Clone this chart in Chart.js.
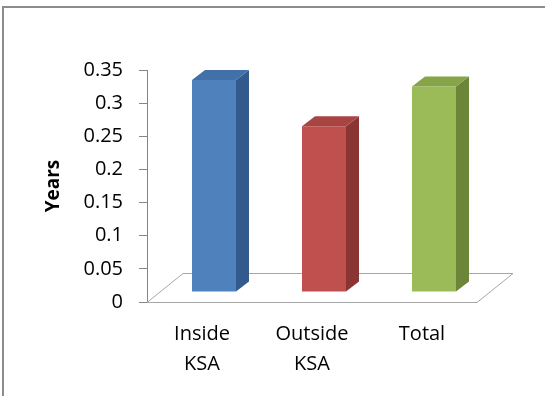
<!DOCTYPE html>
<html>
<head>
<meta charset="utf-8">
<script src="https://cdn.jsdelivr.net/npm/chart.js@4/dist/chart.umd.min.js"></script>
<style>
  html, body { margin: 0; padding: 0; background: #fff; }
  #wrap { width: 545px; height: 396px; position: relative; }
</style>
</head>
<body>
<div id="wrap"><canvas id="grafico" width="545" height="396"></canvas></div>
<script>
// dati
var categorie = [['Inside', 'KSA'], ['Outside', 'KSA'], 'Total'];
var valori = [0.32, 0.25, 0.31];
var colori_fronte = ['#4F81BD', '#C0504D', '#9BBB59'];
var colori_lato   = ['#335A8C', '#8A3533', '#6C8538'];
var colori_sopra  = ['#4270A8', '#A84542', '#86A548'];
var tick_y = { min: 0, max: 0.35, step: 0.05 };

// profondita' 3D (pavimento e barre)
var PROF = { dx: 36, dy: -29 };     // pavimento intero
var SPOST = { dx: 12, dy: -10 };    // barre a meta' profondita'
var BARRA = { dx: 13, dy: -10 };    // spessore barra

var plugin3d = {
  id: 'finto3d',
  beforeDraw: function(chart) {
    var ctx = chart.ctx;
    // cornice grigia
    ctx.save();
    ctx.strokeStyle = '#8C8C8C';
    ctx.lineWidth = 2;
    ctx.beginPath();
    ctx.moveTo(3, 396);
    ctx.lineTo(3, 7);
    ctx.lineTo(545, 7);
    ctx.stroke();
    ctx.restore();
  },
  beforeDatasetsDraw: function(chart) {
    var ctx = chart.ctx;
    var a = chart.chartArea;
    // pavimento
    ctx.save();
    ctx.strokeStyle = '#A6A6A6';
    ctx.lineWidth = 1;
    ctx.beginPath();
    ctx.moveTo(a.left, a.bottom + 0.5);
    ctx.lineTo(a.right, a.bottom + 0.5);
    ctx.lineTo(a.right + PROF.dx, a.bottom + PROF.dy + 0.5);
    ctx.lineTo(a.left + PROF.dx, a.bottom + PROF.dy + 0.5);
    ctx.closePath();
    ctx.stroke();
    ctx.restore();
    ctx.save();
    ctx.translate(SPOST.dx, SPOST.dy);
  },
  afterDatasetsDraw: function(chart) {
    var ctx = chart.ctx;
    var meta = chart.getDatasetMeta(0);
    meta.data.forEach(function(bar, i) {
      var p = bar.getProps(['x', 'y', 'base', 'width'], true);
      var l = p.x - p.width / 2, r = p.x + p.width / 2;
      // lato
      ctx.fillStyle = colori_lato[i];
      ctx.beginPath();
      ctx.moveTo(r, p.y);
      ctx.lineTo(r + BARRA.dx, p.y + BARRA.dy);
      ctx.lineTo(r + BARRA.dx, p.base + BARRA.dy);
      ctx.lineTo(r, p.base);
      ctx.closePath();
      ctx.fill();
      // sopra
      ctx.fillStyle = colori_sopra[i];
      ctx.beginPath();
      ctx.moveTo(l, p.y);
      ctx.lineTo(l + BARRA.dx, p.y + BARRA.dy);
      ctx.lineTo(r + BARRA.dx, p.y + BARRA.dy);
      ctx.lineTo(r, p.y);
      ctx.closePath();
      ctx.fill();
    });
    ctx.restore();
  }
};

var options = {
  type: 'bar',
  data: {
    labels: categorie,
    datasets: [{
      data: valori,
      backgroundColor: colori_fronte,
      borderWidth: 0,
      barPercentage: 0.4,
      categoryPercentage: 1
    }]
  },
  options: {
    responsive: false,
    animation: false,
    layout: { padding: { top: 70, right: 68, bottom: 0, left: 0 } },
    plugins: { legend: { display: false }, tooltip: { enabled: false } },
    scales: {
      x: {
        grid: { display: false, drawTicks: false },
        border: { display: false },
        ticks: {
          color: '#000',
          padding: 17,
          maxRotation: 0,
          font: { family: 'Open Sans', size: 20, lineHeight: 1.5 }
        },
        afterFit: function(scale) { scale.height = 94; }
      },
      y: {
        min: tick_y.min,
        max: tick_y.max,
        grid: { drawOnChartArea: false, tickLength: 8, color: '#868686' },
        border: { color: '#868686' },
        ticks: {
          stepSize: tick_y.step,
          color: '#000',
          padding: 16,
          font: { family: 'Open Sans', size: 20 },
          callback: function(v) { return String(Math.round(v * 100) / 100); }
        },
        title: {
          display: true,
          text: 'Years',
          color: '#000',
          padding: { top: 42, bottom: 0 },
          font: { family: 'Open Sans', size: 19, weight: 'bold', lineHeight: 1.2 }
        },
        afterFit: function(scale) { scale.width = 147; }
      }
    }
  },
  plugins: [plugin3d]
};

var ctx = document.getElementById('grafico').getContext('2d');
window.grafico = new Chart(ctx, options);
</script>
</body>
</html>
